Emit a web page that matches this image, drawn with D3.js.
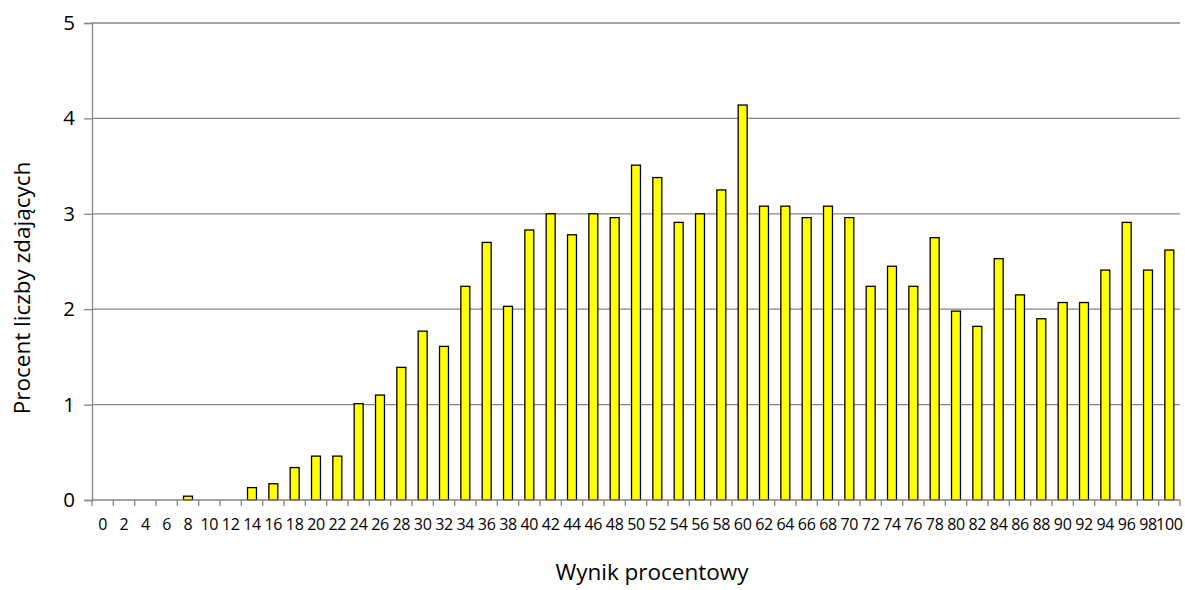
<!DOCTYPE html>
<html>
<head>
    <meta charset="utf-8">
    <script src="https://d3js.org/d3.v7.min.js"></script>
    <style>
        body { margin: 0; background: #fff; }
        text { font-family: "Open Sans", sans-serif; fill: #000; }
    </style>
</head>
<body></body>
<script>
    // wynik procentowy: 0, 2, ..., 100
    var categories = d3.range(0, 101, 2).map(String);
    var values = [
        0, 0, 0, 0, 0.04, 0, 0, 0.13, 0.17, 0.34,
        0.46, 0.46, 1.01, 1.10, 1.39, 1.77, 1.61, 2.24, 2.70, 2.03,
        2.83, 3.00, 2.78, 3.00, 2.96, 3.51, 3.38, 2.91, 3.00, 3.25,
        4.14, 3.08, 3.08, 2.96, 3.08, 2.96, 2.24, 2.45, 2.24, 2.75,
        1.98, 1.82, 2.53, 2.15, 1.90, 2.07, 2.07, 2.41, 2.91, 2.41,
        2.62
    ];
    var yTicks = [0, 1, 2, 3, 4, 5];

    var data = categories.map(function(c, i) { return {cat: c, val: values[i]}; });

    var W = 1185, H = 590;
    var margin = {top: 23, right: 5, bottom: 90, left: 92};
    var width = W - margin.left - margin.right,
        height = H - margin.top - margin.bottom;

    var svg = d3.select("body").append("svg")
        .attr("width", W)
        .attr("height", H);
    var g = svg.append("g")
        .attr("transform", "translate(" + margin.left + "," + margin.top + ")");

    var x = d3.scaleBand().domain(categories).range([0, width]).paddingInner(0.58).paddingOuter(0.29);
    var y = d3.scaleLinear().domain([0, 5]).range([height, 0]);

    var axisColor = "#868686";

    // gridlines
    g.selectAll("line.grid").data(yTicks.slice(1)).enter().append("line")
        .attr("class", "grid")
        .attr("x1", 0).attr("x2", width)
        .attr("y1", function(d) { return y(d); })
        .attr("y2", function(d) { return y(d); })
        .attr("stroke", axisColor).attr("stroke-width", 1.3);

    // bars
    g.selectAll("rect.bar").data(data).enter().append("rect")
        .attr("class", "bar")
        .attr("x", function(d) { return x(d.cat); })
        .attr("y", function(d) { return y(d.val); })
        .attr("width", x.bandwidth())
        .attr("height", function(d) { return y(0) - y(d.val); })
        .attr("fill", "#ffff00")
        .attr("stroke", "#000")
        .attr("stroke-width", 1.3)
        .style("display", function(d) { return d.val > 0 ? null : "none"; });

    // y axis
    var yAxis = g.append("g")
        .call(d3.axisLeft(y).tickValues(yTicks).tickSize(8).tickPadding(9).tickFormat(d3.format("d")));
    yAxis.select(".domain").attr("stroke", axisColor).attr("stroke-width", 1.3);
    yAxis.selectAll(".tick line").attr("stroke", axisColor).attr("stroke-width", 1.3);
    yAxis.selectAll(".tick text").style("font-size", "20.5px").attr("fill", "#000");

    // x axis: ticks on category boundaries
    var step = x.step();
    var boundaries = d3.range(0, categories.length + 1).map(function(i) { return i * step; });
    var xAxisG = g.append("g").attr("transform", "translate(0," + height + ")");
    xAxisG.append("line")
        .attr("x1", 0).attr("x2", width)
        .attr("stroke", axisColor).attr("stroke-width", 1.3);
    xAxisG.selectAll("line.tk").data(boundaries).enter().append("line")
        .attr("class", "tk")
        .attr("x1", function(d) { return d; }).attr("x2", function(d) { return d; })
        .attr("y1", 0).attr("y2", 6)
        .attr("stroke", axisColor).attr("stroke-width", 1.3);
    xAxisG.selectAll("text").data(categories).enter().append("text")
        .attr("x", function(d) { return x(d) + x.bandwidth() / 2; })
        .attr("y", 30)
        .attr("text-anchor", "middle")
        .style("font-size", "16px")
        .style("letter-spacing", "-0.3px")
        .text(function(d) { return d; });

    // axis titles
    svg.append("text")
        .attr("transform", "translate(30,288) rotate(-90)")
        .attr("text-anchor", "middle")
        .style("font-size", "22.5px")
        .text("Procent liczby zdających");

    svg.append("text")
        .attr("x", 652)
        .attr("y", 580)
        .attr("text-anchor", "middle")
        .style("font-size", "22.5px")
        .text("Wynik procentowy");
</script>
</html>
